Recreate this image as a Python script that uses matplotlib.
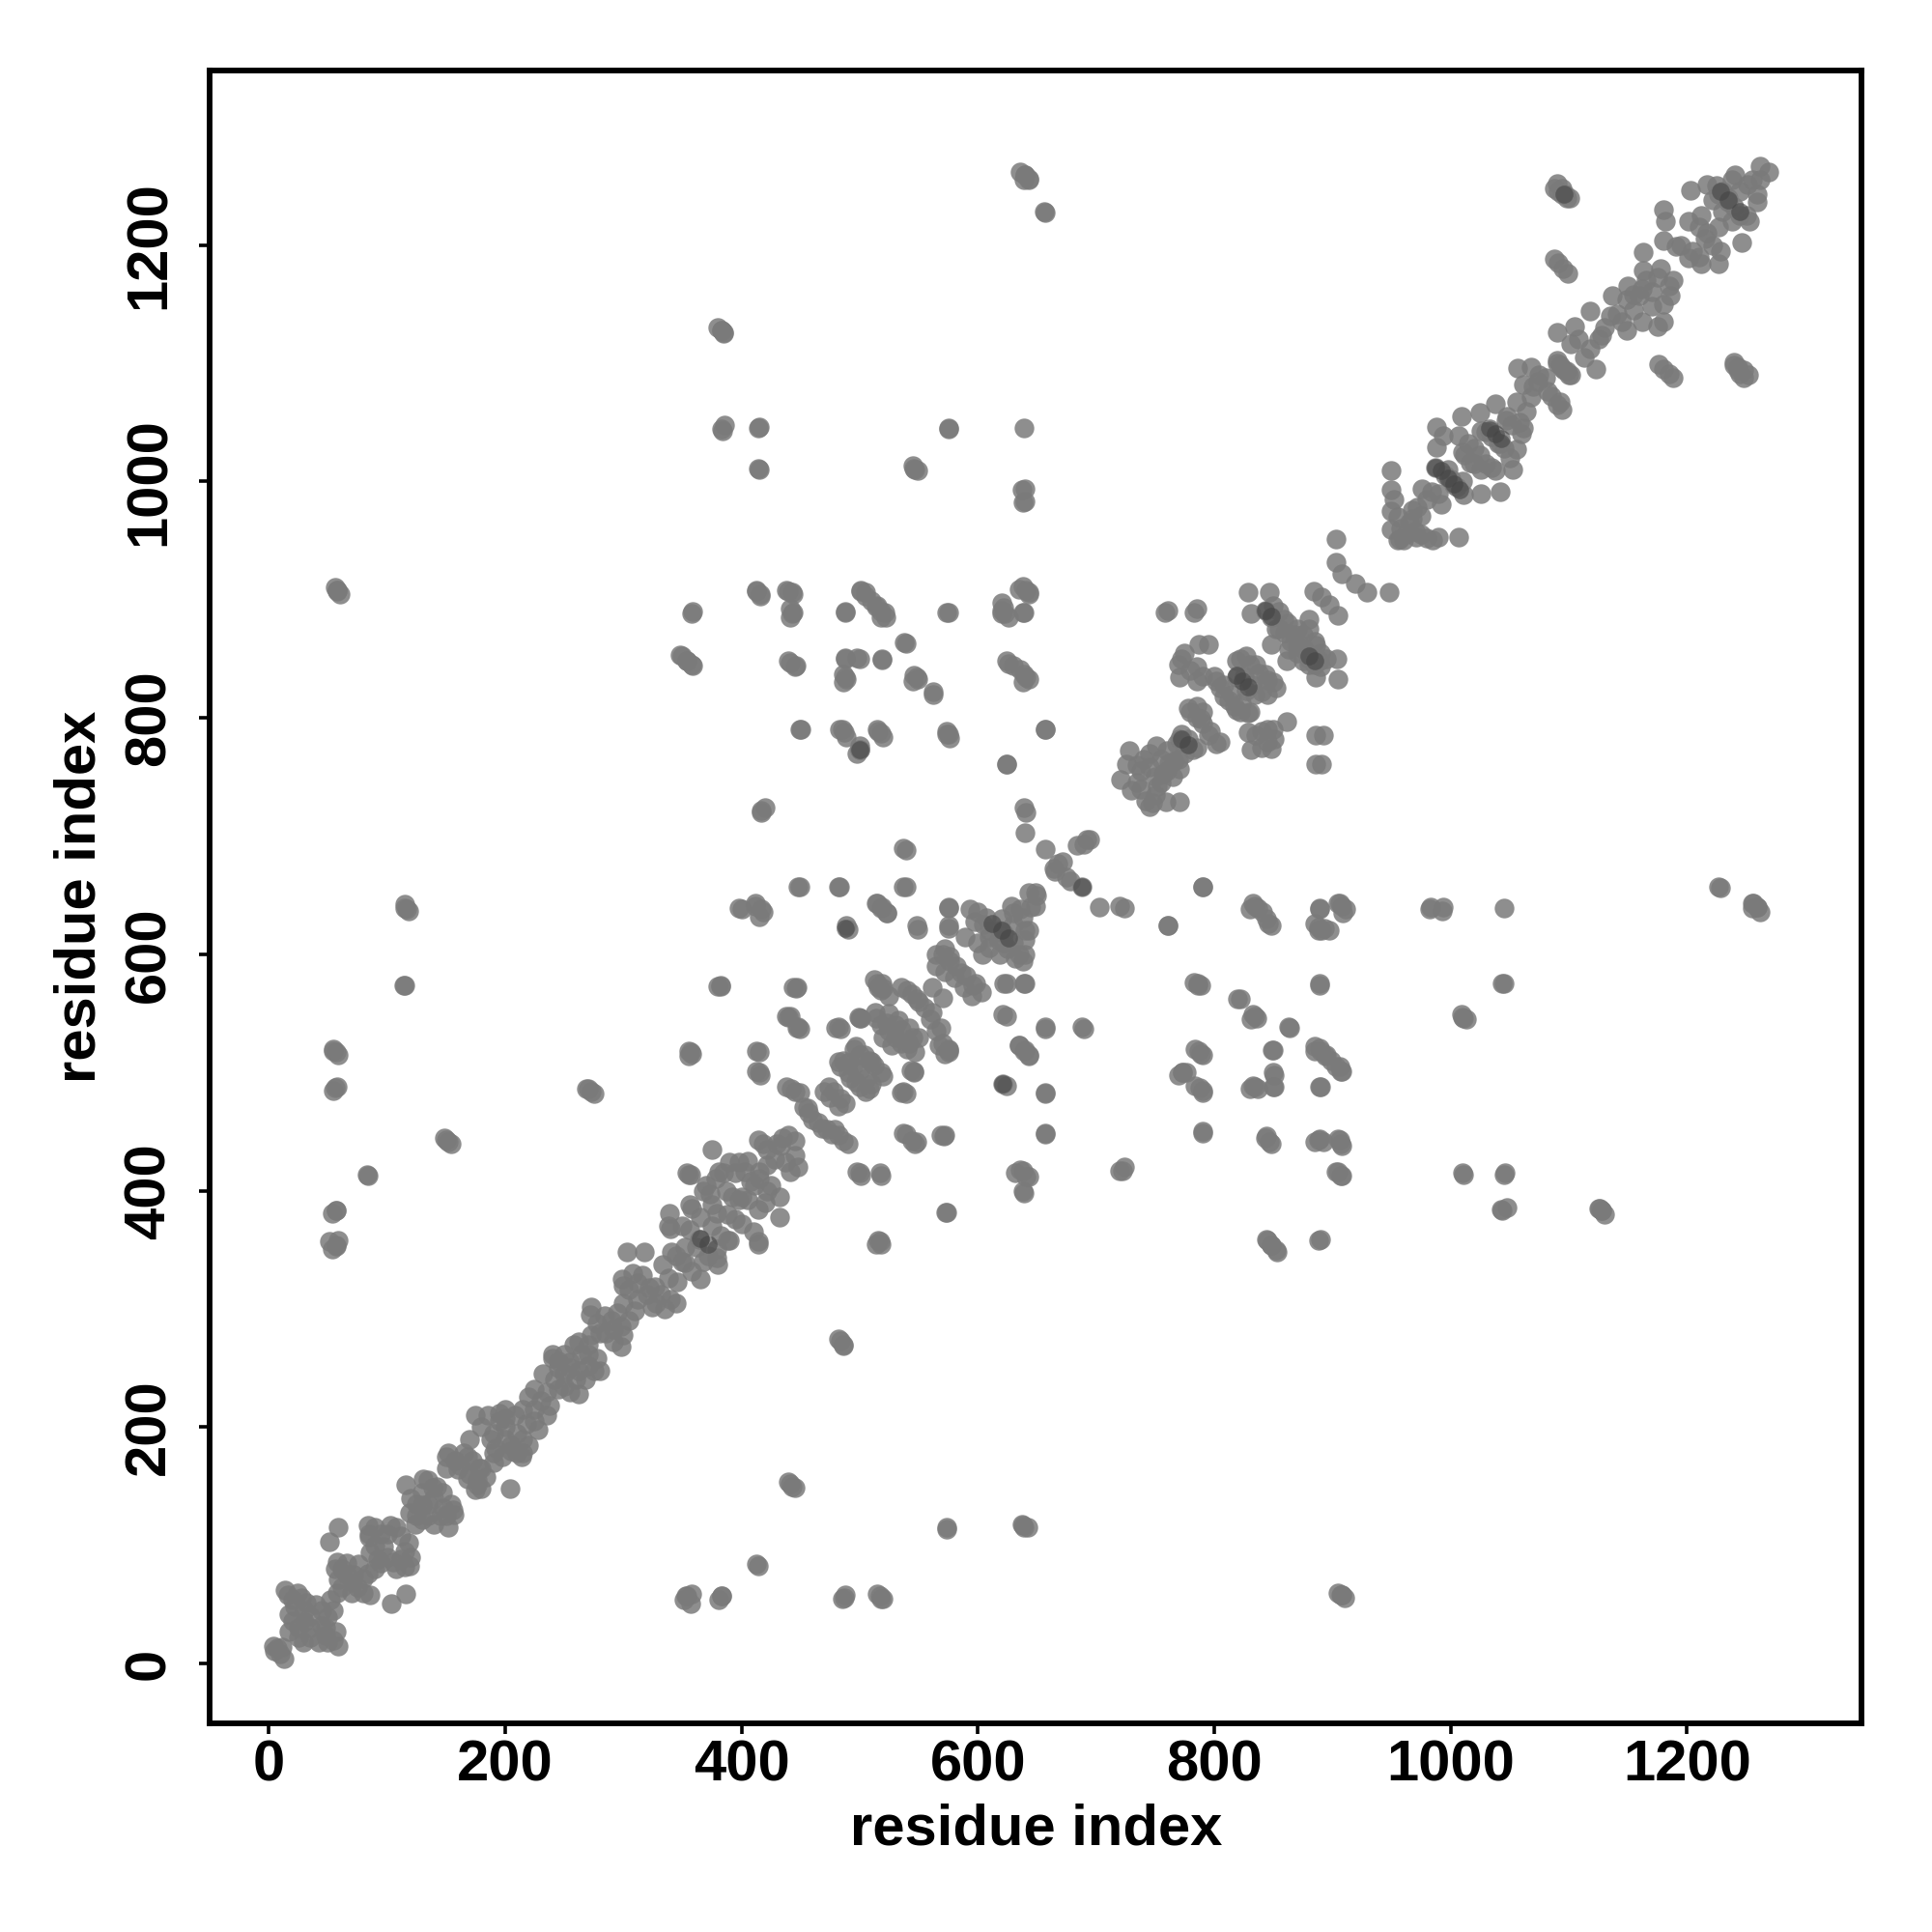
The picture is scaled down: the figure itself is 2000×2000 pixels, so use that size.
import numpy as np
import matplotlib
matplotlib.use('Agg')
import matplotlib.pyplot as plt

plt.rcParams['font.family'] = ['Liberation Sans', 'DejaVu Sans']

# contacts away from the diagonal, the map is symmetric so only one half is listed
off_a = [636, 640, 643, 656, 380, 383, 385, 383, 414, 414, 546, 549, 575, 639, 637, 640,
         1088, 1091, 1094, 1098, 1088, 1091, 1095, 1099, 1090, 1093, 1096, 1100, 1090, 1094, 1097, 1101,
         58, 60, 383, 385, 657, 639, 643, 640, 638, 640, 547, 545, 575, 415, 415, 384, 386, 58, 56,
         639, 637, 574, 518, 515, 488, 485, 383, 381, 354, 351, 357, 414, 443, 440, 486, 482,
         518, 516, 573, 639, 641, 638, 722, 724, 888, 852, 848, 845, 790, 790, 784, 788, 773, 770, 889, 850, 851, 834, 830, 850,
         789, 784, 864, 834, 831, 822, 786, 783, 889, 761, 897, 893, 888, 909, 905, 889, 848, 844, 834, 830, 790,
         907, 905, 907, 903, 889, 885, 848, 844, 907, 903, 899, 894, 889, 885,
         690, 657, 657, 657, 624, 643, 639, 635, 640, 624, 624, 575, 575, 549, 571, 547, 539, 539, 546, 518, 501, 498,
         484, 501, 519, 516, 490, 523, 519, 515, 539, 483, 449, 539, 449, 441, 447, 382, 415, 415, 357, 355, 400, 418, 412, 415,
         417, 414, 357, 273, 269, 152, 149, 115, 117, 115, 84, 57, 59, 57, 56, 57, 55, 58]
off_b = [1262, 1259, 1256, 1228, 1130, 1128, 1126, 1044, 1045, 1011, 1011, 1009, 1045, 1045, 993, 983,
         1248, 1245, 1243, 1240, 1188, 1185, 1180, 1176, 1102, 1098, 1094, 1090, 1252, 1248, 1243, 1240,
         907, 905, 1128, 1125, 1227, 1255, 1255, 1259, 982, 994, 1010, 1013, 1044, 1010, 1046, 1043, 1048, 908, 910,
         115, 118, 114, 55, 59, 58, 55, 57, 54, 57, 54, 51, 83, 150, 154, 270, 275,
         355, 358, 382, 398, 412, 417, 417, 420, 358, 350, 354, 358, 450, 485, 489, 487, 500, 498, 488, 488, 498, 488, 486, 519,
         516, 520, 538, 548, 545, 562, 574, 576, 575, 624, 620, 622, 620, 635, 643, 638, 624, 630, 641, 638, 657,
         440, 444, 413, 416, 444, 441, 440, 446, 501, 505, 510, 514, 521, 518,
         537, 537, 448, 482, 489, 514, 518, 523, 575, 575, 548, 622, 639, 621, 446, 440, 448, 482, 500, 413, 413, 416,
         537, 546, 575, 572, 621, 635, 640, 643, 657, 657, 657, 688, 537, 548, 572, 574, 517, 500, 517, 514, 638, 636, 643, 632,
         720, 355, 414, 484, 486, 441, 445, 574, 638, 642, 413, 353, 358, 383, 487, 517, 520, 908]

right_x = [773, 776, 787, 790, 790, 790, 786, 789, 761, 790, 820, 833, 836, 863, 849, 850, 851, 833, 837, 843, 847,
           888, 892, 906, 908, 890, 889, 885, 890, 895, 906, 908, 905, 908, 890, 844, 848, 853,
           846, 833, 837, 841, 885, 888, 891, 889, 906, 908, 911, 703, 720, 724, 892, 891]
right_y = [500, 500, 518, 515, 483, 449, 575, 574, 624, 657, 562, 549, 546, 539, 519, 500, 488, 489, 486, 445, 441,
           443, 441, 443, 438, 488, 574, 522, 518, 515, 505, 501, 416, 413, 359, 359, 354, 348,
           626, 643, 639, 636, 626, 623, 620, 639, 643, 641, 638, 640, 641, 639, 785, 761]

# band along the diagonal, read point by point
band_x = [5, 13, 4, 14, 28, 17, 17, 29, 42, 59, 57, 50, 40, 52, 59, 71, 86, 76, 84, 58, 59, 51, 104, 116, 84, 103, 118, 119, 105, 92, 86, 85, 97,
          116, 131, 139, 154, 157, 152, 130, 119, 124, 130, 150, 168, 176, 204, 214, 190, 160, 168,
          180, 195, 185, 205, 215, 170, 190, 200, 215, 225, 235, 225, 235, 245, 250, 258, 240, 250, 260, 270, 275, 255, 265, 232,
          273, 284, 295, 300, 273, 292, 299, 316, 327, 324, 305, 300, 346, 345, 303, 318, 333, 352, 341, 368, 379, 379, 388, 364, 356,
          395, 379, 338, 339, 356, 368, 373, 387, 398, 414, 422, 411, 403, 390, 381, 398, 415, 422, 428, 422, 414, 441, 437, 433, 445, 440,
          375, 354, 432, 380, 444, 438, 447,
          438, 449, 453, 460, 468, 479, 486, 470, 475, 482, 497, 504, 510, 518, 480, 499, 482, 490, 497, 505, 513, 523, 533, 542, 520, 527, 542, 547,
          512, 520, 535, 544, 550, 561, 570, 561, 569, 567, 575, 543, 535, 544, 569,
          593, 607, 619, 630, 638, 604, 589, 628, 638, 649, 643, 643, 619, 576, 586, 596, 603, 572, 565,
          657, 664, 675, 672, 690, 695, 688, 649,
          728, 726, 721, 730, 745, 759, 771, 771, 757, 745, 751, 760, 771, 782, 766, 778, 789, 797, 805, 802, 808, 819, 829, 829, 831, 848, 840, 851, 861, 886, 886,
          758, 783, 787, 795, 772, 785, 771, 785, 819, 827, 834, 827, 835, 843, 850, 819,
          829, 847, 831, 843, 859, 880, 870, 848, 861, 876, 886, 884, 889, 904, 886, 905, 870, 884, 891, 897, 905, 903, 903, 908, 919, 929, 948,
          950, 950, 950, 950, 957, 971, 968, 975, 990, 1007, 976, 984, 992, 987, 995, 1003, 1011, 1026, 1042, 1053, 1038, 1026, 1017, 1010, 988, 988, 994, 1007, 1009, 1025, 1026, 1038, 1033, 1040, 1047, 1060, 1056, 1056, 1064, 1057, 1068, 1074, 1068, 1082, 1093, 1094,
          1090, 1102, 1113, 1123, 1149, 1162, 1128, 1141, 1160, 1163, 1175, 1180, 1180, 1182, 1180, 1191, 1201, 1212, 1227, 1217, 1201, 1212, 1227, 1238, 1253, 1217, 1227, 1235, 1245, 1259, 1262, 1269, 1241, 1251, 1259, 1203, 1137, 1149, 1118, 1105, 1163, 1175, 1162, 1186, 1246]
band_y = [11, 4, 15, 62, 56, 42, 27, 18, 18, 15, 27, 39, 50, 54, 71, 69, 58, 84, 76, 86, 115, 103, 51, 59, 117, 117, 102, 83, 86, 88, 94, 107, 99,
          151, 156, 149, 135, 126, 115, 122, 128, 118, 134, 175, 175, 151, 148, 175, 178, 164, 156,
          165, 205, 210, 180, 178, 190, 195, 200, 215, 205, 230, 232, 210, 250, 262, 270, 258, 235, 240, 252, 248, 250, 262, 245,
          302, 294, 297, 278, 278, 283, 325, 329, 319, 302, 316, 305, 323, 305, 348, 348, 338, 339, 348, 340, 343, 351, 358, 359, 367,
          376, 381, 370, 381, 388, 400, 397, 400, 392, 384, 400, 405, 416, 424, 416, 424, 416, 422, 427, 435, 443, 416, 424, 438, 442, 447,
          435, 415, 378, 573, 572, 548, 538,
          488, 483, 471, 460, 453, 452, 442, 484, 479, 472, 522, 515, 509, 500, 538, 547, 509, 500, 492, 484, 551, 542, 544, 538, 530, 523, 525, 517,
          579, 571, 572, 566, 560, 572, 563, 551, 538, 523, 517, 502, 483, 442, 447,
          638, 631, 620, 610, 594, 600, 615, 641, 631, 641, 652, 620, 600, 594, 584, 574, 568, 605, 600,
          689, 673, 665, 678, 693, 697, 657, 652,
          772, 761, 748, 739, 725, 729, 729, 757, 753, 758, 776, 772, 782, 773, 763, 808, 799, 789, 780, 831, 818, 807, 804, 788, 773, 774, 789, 782, 797, 785, 761,
          889, 889, 862, 862, 850, 843, 834, 831, 834, 823, 820, 852, 845, 837, 830, 848,
          906, 906, 888, 891, 883, 883, 875, 862, 848, 858, 861, 852, 848, 850, 834, 833, 861, 907, 902, 896, 887, 951, 932, 922, 914, 906, 906,
          1009, 993, 975, 959, 951, 953, 976, 971, 953, 953, 994, 991, 981, 1012, 1005, 997, 989, 990, 991, 1010, 1009, 1010, 1016, 1025, 1029, 1046, 1039, 1039, 1055, 1058, 1043, 1066, 1043, 1032, 1052, 1040, 1027, 1067, 1059, 1096, 1097, 1084, 1071, 1076, 1067, 1061,
          1126, 1116, 1105, 1095, 1128, 1135, 1124, 1142, 1157, 1178, 1131, 1135, 1230, 1220, 1204, 1199, 1189, 1184, 1184, 1210, 1220, 1225, 1215, 1220, 1220, 1251, 1243, 1236, 1225, 1236, 1267, 1262, 1259, 1251, 1243, 1246, 1157, 1154, 1144, 1131, 1194, 1173, 1163, 1157, 1202]

# second pass over the band, the crowded spots
band_more = np.array([
    (10, 8), (7, 13), (11, 14), (16, 58), (20, 54), (24, 60), (32, 52), (20, 36), (25, 30), (30, 35), (25, 22), (35, 30), (35, 22),
    (48, 24), (50, 18), (55, 20), (35, 40), (45, 32), (45, 45), (48, 30), (30, 45), (22, 48), (55, 45), (58, 60), (62, 65), (66, 75),
    (70, 60), (75, 65), (80, 60), (62, 80), (56, 80), (66, 85), (72, 75), (80, 72), (90, 100), (85, 110), (90, 115), (95, 110),
    (100, 110), (108, 115), (112, 108), (115, 95), (120, 90), (100, 90), (95, 85), (108, 80), (112, 88), (90, 80), (115, 82),
    (120, 140), (125, 135), (135, 125), (140, 118), (125, 125), (135, 135), (130, 145), (140, 140), (145, 125), (148, 132), (156, 130),
    (150, 125), (135, 155), (142, 150), (147, 145), (152, 178), (158, 172), (162, 168), (170, 160), (176, 155), (150, 165), (165, 178),
    (172, 172), (178, 165), (184, 158), (180, 148), (175, 147), (188, 190), (180, 200), (175, 210), (192, 182), (198, 175), (190, 170),
    (200, 190), (205, 185), (210, 178), (195, 212), (200, 208), (210, 195), (215, 190), (220, 185), (218, 203), (228, 198), (225, 215),
    (230, 222), (220, 226), (238, 218), (242, 240), (245, 232), (250, 245), (255, 230), (262, 228), (240, 262), (245, 256), (255, 255),
    (262, 248), (268, 240), (270, 262), (262, 272), (270, 270), (278, 258), (280, 248), (272, 295), (278, 288), (285, 280), (292, 272),
    (298, 268), (280, 280), (290, 290), (298, 285), (305, 290), (300, 320), (308, 330), (312, 322), (320, 312), (328, 305), (335, 300),
    (312, 308), (322, 318), (332, 312), (340, 308), (310, 298), (338, 326), (345, 345), (350, 340), (358, 332), (365, 325), (350, 370),
    (358, 385), (365, 378), (375, 370), (382, 362), (390, 358), (340, 368), (352, 352), (362, 352), (372, 345), (380, 338), (375, 388),
    (388, 380), (400, 372), (410, 365), (405, 392), (415, 410), (425, 405), (432, 395), (395, 415), (405, 425), (400, 395), (420, 390),
    (370, 405), (378, 410), (385, 415), (392, 395), (408, 408), (418, 440), (430, 440), (435, 445), (445, 430), (448, 420),
    (442, 486), (445, 484), (456, 470), (457, 466), (465, 458), (472, 452), (476, 448), (482, 447), (490, 440), (474, 488), (478, 484),
    (484, 478), (488, 474), (490, 508), (494, 505), (500, 502), (506, 495), (510, 490), (495, 520), (500, 515), (508, 510), (512, 506),
    (520, 497), (486, 510), (484, 505), (492, 495), (500, 488), (508, 486), (514, 546), (518, 540), (525, 535), (530, 530), (535, 525),
    (540, 520), (525, 550), (535, 536), (545, 530), (515, 575), (518, 570), (525, 565), (540, 570), (548, 562), (555, 555), (560, 545),
    (565, 535), (530, 540), (550, 530), (570, 525), (575, 520), (565, 590), (572, 585), (580, 580), (588, 572), (595, 565), (570, 600),
    (576, 598), (582, 590), (590, 582), (598, 575), (605, 625), (610, 620), (618, 612), (625, 605), (632, 597), (600, 636), (597, 628),
    (610, 615), (622, 618), (630, 625), (640, 620), (635, 600), (640, 600), (645, 640), (650, 650), (600, 610), (610, 606), (640, 612),
    (630, 635), (636, 638), (620, 630), (622, 610), (665, 670), (678, 662), (668, 677), (684, 692), (692, 697),
    (735, 745), (738, 740), (742, 730), (750, 735), (748, 728), (740, 765), (745, 770), (750, 750), (755, 745), (760, 755), (765, 750),
    (755, 765), (762, 762), (768, 778), (775, 770), (772, 786), (778, 782), (785, 775), (735, 760), (738, 755), (752, 742), (770, 765),
    (780, 805), (785, 800), (790, 795), (795, 785), (802, 778), (785, 810), (790, 805), (805, 825), (812, 815), (817, 810), (822, 805),
    (800, 835), (808, 828), (815, 820), (823, 812), (830, 805), (822, 850), (830, 845), (838, 838), (845, 832), (852, 825), (825, 835),
    (832, 828), (840, 822), (845, 820), (850, 895), (855, 890), (862, 880), (868, 870), (872, 862), (860, 872), (865, 865), (870, 855),
    (875, 848), (880, 845), (855, 875), (863, 858), (880, 875), (875, 870), (885, 865), (890, 855), (895, 850), (885, 845), (848, 885),
    (852, 875), (880, 850), (890, 843), (770, 845), (775, 855), (780, 840), (790, 835), (845, 790), (835, 785), (850, 790), (845, 780),
    (840, 775), (952, 985), (955, 970), (958, 960), (962, 955), (965, 965), (970, 958), (975, 955), (980, 952), (985, 950), (955, 950),
    (960, 950), (968, 968), (972, 978), (980, 985), (990, 990), (1000, 1002), (1005, 995), (1010, 1000), (998, 1010), (1015, 1032),
    (1020, 1028), (1025, 1022), (1030, 1015), (1035, 1012), (1020, 1015), (1012, 1022), (1030, 1042), (1035, 1038), (1042, 1032),
    (1045, 1028), (1050, 1020), (1052, 1048), (1048, 1055), (1058, 1050), (1062, 1045), (1070, 1080), (1075, 1090), (1080, 1088),
    (1085, 1072), (1090, 1065), (1062, 1082), (1108, 1120), (1118, 1112), (1125, 1120), (1130, 1130), (1135, 1140), (1145, 1135),
    (1155, 1145), (1170, 1148), (1150, 1165), (1155, 1158), (1165, 1170), (1170, 1160), (1178, 1180), (1185, 1165), (1188, 1170),
    (1180, 1150), (1195, 1200), (1205, 1195), (1210, 1190), (1215, 1205), (1222, 1200), (1228, 1195), (1210, 1215), (1225, 1250),
    (1230, 1245), (1235, 1240), (1240, 1232), (1250, 1225), (1245, 1245), (1255, 1255), (1262, 1255), (1238, 1255), (1222, 1238),
    (1230, 1228), (200, 215), (208, 210),
])

# places where many contacts pile up and the map goes dark
dark_x = [987, 992, 998, 1003, 1008, 1033, 1038, 1043, 843, 848, 819, 824, 829, 880, 885, 772, 778, 620, 626, 612, 500, 488, 621, 688, 1228, 1235, 1245, 1096, 365, 372]
dark_y = [1012, 1009, 1003, 998, 993, 1045, 1040, 1036, 891, 886, 836, 831, 826, 852, 848, 782, 777, 620, 614, 626, 773, 622, 490, 657, 1245, 1238, 1228, 1243, 360, 355]

ticks = [0, 200, 400, 600, 800, 1000, 1200]

# mirror the off diagonal half
more_x, more_y = band_more.T
xs = np.concatenate([off_a, off_b, right_x, right_y, band_x, more_x])
ys = np.concatenate([off_b, off_a, right_y, right_x, band_y, more_y])

fig = plt.figure(figsize=(20, 20), dpi=100)
ax = fig.add_axes([0.1085, 0.108, 0.8552, 0.8555])

ax.scatter(xs, ys, s=215, c='#7a7a7a', alpha=0.85, linewidths=0, zorder=2)
ax.scatter(dark_x, dark_y, s=180, c='#444444', alpha=0.6, linewidths=0, zorder=3)

ax.set_xlim(-50, 1348)
ax.set_ylim(-50.5, 1347.5)
ax.set_xticks(ticks)
ax.set_yticks(ticks)
ax.tick_params(axis='x', length=8, width=2.6, labelsize=43, pad=4)
ax.tick_params(axis='y', length=8, width=2.6, labelsize=43, pad=17)
for lab in ax.get_xticklabels() + ax.get_yticklabels():
    lab.set_fontweight('bold')
for lab in ax.get_yticklabels():
    lab.set_rotation(90)
    lab.set_verticalalignment('center')
for sp in ax.spines.values():
    sp.set_linewidth(4.2)

ax.set_xlabel('residue index', fontsize=43, fontweight='bold')
ax.set_ylabel('residue index', fontsize=43, fontweight='bold')
ax.xaxis.set_label_coords(0.5, -0.048)
ax.yaxis.set_label_coords(-0.062, 0.5)

fig.savefig('out.png', dpi=100, facecolor='white')
